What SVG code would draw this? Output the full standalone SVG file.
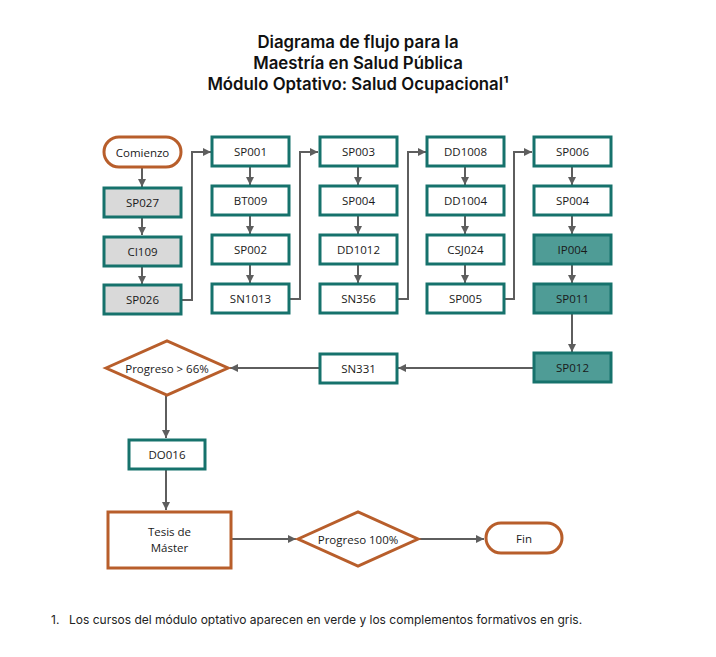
<svg xmlns="http://www.w3.org/2000/svg" width="716" height="657" viewBox="0 0 716 657">
<style>
.t{font-family:"Open Sans","Noto Sans",sans-serif;font-size:11.5px;fill:#1a1a1a;text-anchor:middle;dominant-baseline:central}
.title{font-family:Inter,"Liberation Sans",sans-serif;font-size:16.8px;font-weight:600;fill:#111;text-anchor:middle}
.fn{font-family:Inter,"Liberation Sans",sans-serif;font-size:12px;fill:#222}
.b{fill:#fff;stroke:#16726c;stroke-width:3}
.g{fill:#d9d9d9;stroke:#16726c;stroke-width:3}
.v{fill:#4f9c96;stroke:#16726c;stroke-width:3}
.o{fill:#fff;stroke:#b85e2b;stroke-width:3}
.c{fill:none;stroke:#5e5e5e;stroke-width:2;marker-end:url(#ah)}
</style>
<defs>
<marker id="ah" viewBox="0 0 10 10" refX="10" refY="5" markerWidth="8" markerHeight="8" markerUnits="userSpaceOnUse" orient="auto">
<path d="M0,0 L10,5 L0,10 z" fill="#5e5e5e"/>
</marker>
</defs>
<rect width="716" height="657" fill="#fff"/>
<text class="title" x="358" y="48">Diagrama de flujo para la</text>
<text class="title" x="358" y="69">Maestría en Salud Pública</text>
<text class="title" x="358" y="90">Módulo Optativo: Salud Ocupacional¹</text>

<g id="connectors">
<path class="c" d="M142,167 V187"/>
<path class="c" d="M142,218 V235"/>
<path class="c" d="M142,266 V284"/>
<path class="c" d="M181,300 H192 V152 H211"/>
<path class="c" d="M250,166 V185"/>
<path class="c" d="M250,216 V234"/>
<path class="c" d="M250,264 V283"/>
<path class="c" d="M289,299 H300 V152 H318"/>
<path class="c" d="M358,166 V185"/>
<path class="c" d="M358,216 V234"/>
<path class="c" d="M358,264 V283"/>
<path class="c" d="M397,299 H408 V152 H426"/>
<path class="c" d="M465,166 V185"/>
<path class="c" d="M465,216 V234"/>
<path class="c" d="M465,264 V283"/>
<path class="c" d="M504,299 H514 V152 H532"/>
<path class="c" d="M572,166 V185"/>
<path class="c" d="M572,216 V234"/>
<path class="c" d="M572,264 V283"/>
<path class="c" d="M572,313 V352"/>
<path class="c" d="M533,368 H398"/>
<path class="c" d="M320,368 H230"/>
<path class="c" d="M166,395 V438"/>
<path class="c" d="M166,469 V510"/>
<path class="c" d="M232,539 H296"/>
<path class="c" d="M419,539 H484"/>
</g>

<g id="comienzo"><rect class="o" x="104" y="137" width="77" height="30" rx="15"/><text class="t" x="142.5" y="152">Comienzo</text></g>
<g id="sp027"><rect class="g" x="104" y="188" width="77" height="29"/><text class="t" x="142.5" y="202.5">SP027</text></g>
<g id="ci109"><rect class="g" x="104" y="237" width="77" height="29"/><text class="t" x="142.5" y="251.5">CI109</text></g>
<g id="sp026"><rect class="g" x="104" y="285" width="77" height="29"/><text class="t" x="142.5" y="299.5">SP026</text></g>

<g id="sp001"><rect class="b" x="212" y="137" width="77" height="29"/><text class="t" x="250.5" y="151.5">SP001</text></g>
<g id="bt009"><rect class="b" x="212" y="186" width="77" height="29"/><text class="t" x="250.5" y="200.5">BT009</text></g>
<g id="sp002"><rect class="b" x="212" y="235" width="77" height="29"/><text class="t" x="250.5" y="249.5">SP002</text></g>
<g id="sn1013"><rect class="b" x="212" y="284" width="77" height="29"/><text class="t" x="250.5" y="298.5">SN1013</text></g>

<g id="sp003"><rect class="b" x="320" y="137" width="77" height="29"/><text class="t" x="358.5" y="151.5">SP003</text></g>
<g id="sp004a"><rect class="b" x="320" y="186" width="77" height="29"/><text class="t" x="358.5" y="200.5">SP004</text></g>
<g id="dd1012"><rect class="b" x="320" y="235" width="77" height="29"/><text class="t" x="358.5" y="249.5">DD1012</text></g>
<g id="sn356"><rect class="b" x="320" y="284" width="77" height="29"/><text class="t" x="358.5" y="298.5">SN356</text></g>

<g id="dd1008"><rect class="b" x="427" y="137" width="77" height="29"/><text class="t" x="465.5" y="151.5">DD1008</text></g>
<g id="dd1004"><rect class="b" x="427" y="186" width="77" height="29"/><text class="t" x="465.5" y="200.5">DD1004</text></g>
<g id="csj024"><rect class="b" x="427" y="235" width="77" height="29"/><text class="t" x="465.5" y="249.5">CSJ024</text></g>
<g id="sp005"><rect class="b" x="427" y="284" width="77" height="29"/><text class="t" x="465.5" y="298.5">SP005</text></g>

<g id="sp006"><rect class="b" x="534" y="137" width="77" height="29"/><text class="t" x="572.5" y="151.5">SP006</text></g>
<g id="sp004b"><rect class="b" x="534" y="186" width="77" height="29"/><text class="t" x="572.5" y="200.5">SP004</text></g>
<g id="ip004"><rect class="v" x="534" y="235" width="77" height="29"/><text class="t" x="572.5" y="249.5">IP004</text></g>
<g id="sp011"><rect class="v" x="534" y="284" width="77" height="29"/><text class="t" x="572.5" y="298.5">SP011</text></g>

<g id="sp012"><rect class="v" x="534" y="353" width="77" height="29"/><text class="t" x="572.5" y="367.5">SP012</text></g>
<g id="sn331"><rect class="b" x="320" y="354" width="77" height="29"/><text class="t" x="358.5" y="368.5">SN331</text></g>
<g id="progreso66"><polygon class="o" points="106,368 167,341 228,368 167,395"/><text class="t" x="167" y="368">Progreso &gt; 66%</text></g>
<g id="do016"><rect class="b" x="129" y="440" width="76" height="29"/><text class="t" x="167" y="454.5">DO016</text></g>
<g id="tesis"><rect class="o" x="108" y="512" width="123" height="56"/><text class="t" x="169.5" y="531">Tesis de</text><text class="t" x="169.5" y="547">Máster</text></g>
<g id="progreso100"><polygon class="o" points="298,539 358,512 418,539 358,566"/><text class="t" x="358" y="539">Progreso 100%</text></g>
<g id="fin"><rect class="o" x="486" y="523" width="76" height="30" rx="15"/><text class="t" x="524" y="538">Fin</text></g>

<text class="fn" x="51" y="624">1.</text>
<text class="fn" x="69" y="624">Los cursos del módulo optativo aparecen en verde y los complementos formativos en gris.</text>
</svg>
